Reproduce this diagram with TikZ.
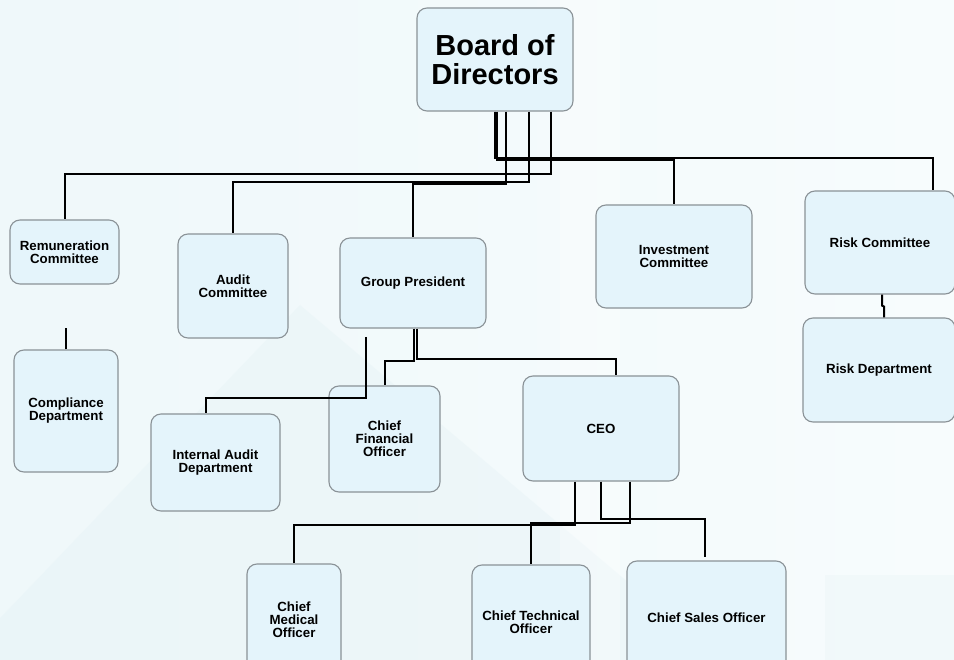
\documentclass[tikz,border=0pt]{standalone}
\usepackage{fontspec}
\setmainfont{Liberation Sans}
\definecolor{bgA}{HTML}{EFF8FA}
\definecolor{bgB}{HTML}{F7FCFD}
\definecolor{bgTri}{HTML}{E6F3F6}
\definecolor{boxfill}{HTML}{E4F4FB}
\definecolor{boxline}{HTML}{8A9297}
\tikzset{
  orgbox/.style={draw=boxline, fill=boxfill, rounded corners=10pt, line width=1.1pt,
    font=\bfseries\fontsize{13.3}{13}\selectfont, align=center, inner sep=0pt},
  bigbox/.style={orgbox, font=\bfseries\fontsize{29}{29}\selectfont},
  conn/.style={draw=black, line width=2pt, rounded corners=0pt}
}
\begin{document}
\begin{tikzpicture}[x=1pt,y=-1pt]
\useasboundingbox (0,0) rectangle (954,660);
% background
\shade[left color=bgA, right color=bgB] (0,0) rectangle (954,660);
\fill[bgTri, opacity=0.45] (300,305) -- (720,660) -- (-40,660) -- cycle;
\fill[white, opacity=0.3] (560,0) rectangle (620,660);
\fill[bgTri, opacity=0.3] (825,575) rectangle (954,660);
% boxes
\node[bigbox, minimum width=156, minimum height=103] (board) at (495,59.5) {Board of\\Directors};
\node[orgbox, minimum width=109, minimum height=64] (remun) at (64.5,252) {Remuneration\\Committee};
\node[orgbox, minimum width=104, minimum height=122] (compl) at (66,411) {Compliance\\Department};
\node[orgbox, minimum width=110, minimum height=104] (audit) at (233,286) {Audit\\Committee};
\node[orgbox, minimum width=146, minimum height=90] (gp) at (413,283) {Group President};
\node[orgbox, minimum width=156, minimum height=103] (invest) at (674,256.5) {Investment\\Committee};
\node[orgbox, minimum width=150, minimum height=103] (riskc) at (880,242.5) {Risk Committee};
\node[orgbox, minimum width=152, minimum height=104] (riskd) at (879,370) {Risk Department};
\node[orgbox, minimum width=129, minimum height=97] (iad) at (215.5,462.5) {Internal Audit\\Department};
\node[orgbox, minimum width=111, minimum height=106] (cfo) at (384.5,439) {Chief\\Financial\\Officer};
\node[orgbox, minimum width=156, minimum height=105] (ceo) at (601,428.5) {CEO};
\node[orgbox, minimum width=94, minimum height=112] (cmo) at (294,620) {Chief\\Medical\\Officer};
\node[orgbox, minimum width=118, minimum height=114] (cto) at (531,622) {Chief Technical\\Officer};
\node[orgbox, minimum width=159, minimum height=114] (cso) at (706.5,618) {Chief Sales Officer};
% free ends
\coordinate (complstub) at (66,328);
\coordinate (iadstub) at (366,337);
\coordinate (csostub) at (705,557);
% connectors
\draw[conn] ([xshift=56pt]board.south) -- ++(0,62) -| (remun.north);
\draw[conn] ([xshift=34pt]board.south) -- ++(0,70) -| (audit.north);
\draw[conn] ([xshift=11pt]board.south) -- ++(0,72) -| (gp.north);
\draw[conn] ([xshift=2pt]board.south) -- ++(0,48) -| (invest.north);
\draw[conn] (board.south) -- ++(0,46) -| ([xshift=53pt]riskc.north);
\draw[conn] (compl.north) -- (complstub);
\draw[conn] (iadstub) -- (366,398) -| ([xshift=-9.5pt]iad.north);
\draw[conn] ([xshift=1pt]gp.south) -- ++(0,32) -| (cfo.north);
\draw[conn] ([xshift=4pt]gp.south) -- ++(0,30) -| ([xshift=15pt]ceo.north);
\draw[conn] ([xshift=-26pt]ceo.south) -- ++(0,43) -| (cmo.north);
\draw[conn] ([xshift=29pt]ceo.south) -- ++(0,41) -| (cto.north);
\draw[conn] (ceo.south) -- ++(0,37) -| (csostub);
\draw[conn] ([xshift=2pt]riskc.south) -- ++(0,11) -- ++(2,1) -- ([xshift=5pt]riskd.north);
\end{tikzpicture}
\end{document}
